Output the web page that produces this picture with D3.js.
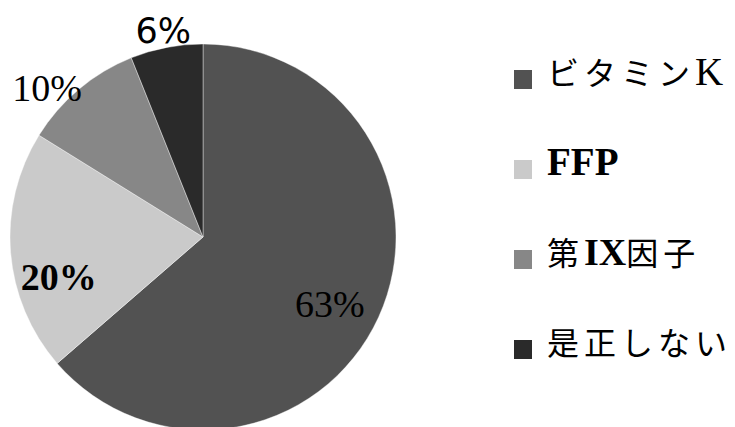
<!DOCTYPE html>
<html>
<head>
<meta charset="utf-8">
<script src="https://cdn.jsdelivr.net/npm/d3@7"></script>
<style>
  html, body { margin: 0; padding: 0; background: #fff; }
  svg { display: block; }
</style>
</head>
<body>
<svg id="chart" width="735" height="427"></svg>
<script>
// ---- data ----
const categories = ["ビタミンK", "FFP", "第IX因子", "是正しない"];
const values = [63, 20, 10, 6];
const valueLabels = ["63%", "20%", "10%", "6%"];
const colors = ["#525252", "#cacaca", "#878787", "#2a2a2a"];

// ---- layout ----
const cx = 203, cy = 237, R = 193;
const svg = d3.select("#chart");

const pie = d3.pie().sort(null).value(d => d)(values);
const arc = d3.arc().innerRadius(0).outerRadius(R);

const g = svg.append("g").attr("transform", `translate(${cx},${cy})`);

g.selectAll("path.slice")
  .data(pie)
  .join("path")
  .attr("class", "slice")
  .attr("d", arc)
  .attr("fill", (d, i) => colors[i])
  .attr("stroke", "#ffffff")
  .attr("stroke-opacity", 0.5)
  .attr("stroke-width", 0.8);

// labels: inside for big slices, outside for small ones
const labelStyle = [
  { r: 0.74, font: "'Liberation Serif', serif", size: 38, weight: "normal", nudge: [-3, 7] },
  { r: 0.75, font: "'Liberation Serif', serif", size: 38, weight: "bold", nudge: [0, 28] },
  { r: 1.12, font: "'Liberation Serif', serif", size: 38, weight: "normal", nudge: [-17, 16] },
  { r: 1.09, font: "'DejaVu Sans', sans-serif", size: 35, weight: "normal", nudge: [0, 0] }
];

g.selectAll("text.pct")
  .data(pie)
  .join("text")
  .attr("class", "pct")
  .attr("transform", (d, i) => {
    const s = labelStyle[i];
    const c = d3.arc().innerRadius(R * s.r).outerRadius(R * s.r).centroid(d);
    return `translate(${c[0] + s.nudge[0]},${c[1] + s.nudge[1]})`;
  })
  .attr("text-anchor", "middle")
  .attr("dy", "0.35em")
  .style("font-family", (d, i) => labelStyle[i].font)
  .style("font-size", (d, i) => labelStyle[i].size + "px")
  .style("font-weight", (d, i) => labelStyle[i].weight)
  .attr("fill", "#000")
  .text((d, i) => valueLabels[i]);

// ---- legend ----
const legendY = d3.scalePoint().domain(categories).range([79, 349]);
const legend = svg.append("g");
const rows = legend.selectAll("g.row")
  .data(categories)
  .join("g")
  .attr("class", "row")
  .attr("transform", d => `translate(514,${legendY(d)})`);

rows.append("rect")
  .attr("x", 0).attr("y", -9)
  .attr("width", 18).attr("height", 19)
  .attr("fill", (d, i) => colors[i]);

const latinStyle = { "K": [39, "normal"], "FFP": [39, "bold"], "IX": [38, "bold"] };

rows.append("text")
  .attr("x", 33)
  .attr("dy", "0.36em")
  .attr("fill", "#000")
  .each(function (d) {
    const t = d3.select(this);
    const parts = d.match(/[A-Za-z]+|[^A-Za-z]+/g);
    parts.forEach(p => {
      const isLatin = /^[A-Za-z]+$/.test(p);
      const ts = t.append("tspan").text(p);
      if (isLatin) {
        const st = latinStyle[p] || [36, "normal"];
        ts.style("font-family", "'Liberation Serif', serif")
          .style("font-size", st[0] + "px")
          .style("font-weight", st[1])
          .style("letter-spacing", "0px");
      } else {
        ts.style("font-family", "'Noto Sans CJK JP', sans-serif")
          .style("font-size", "32px")
          .style("letter-spacing", "5px");
      }
    });
  });
</script>
</body>
</html>
